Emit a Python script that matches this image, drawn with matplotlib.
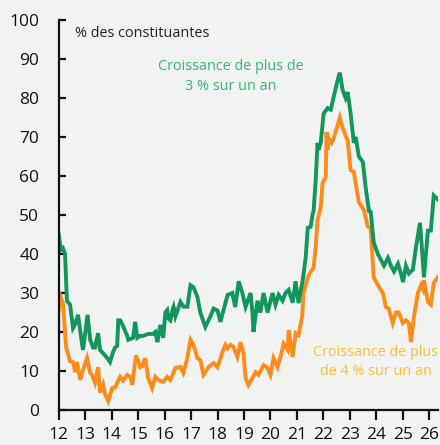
import matplotlib.pyplot as plt

plt.rcParams['font.family'] = ['Open Sans', 'DejaVu Sans']

# part des constituantes avec croissance > 3 % sur un an
green_years = [12.00, 12.08, 12.16, 12.24, 12.31, 12.43, 12.54, 12.62, 12.73, 12.88, 12.92,
               13.09, 13.19, 13.30, 13.37, 13.49, 13.56, 13.68, 13.75, 13.87, 13.94,
               14.06, 14.13, 14.21, 14.25, 14.32, 14.40, 14.59, 14.63, 14.81, 14.89, 14.97,
               15.08, 15.19, 15.38, 15.57, 15.65, 15.73, 15.84, 15.95,
               16.03, 16.10, 16.14, 16.22, 16.30, 16.34, 16.41, 16.60, 16.71, 16.86, 16.98,
               17.09, 17.24, 17.35, 17.54, 17.73, 17.85, 18.00,
               18.11, 18.38, 18.56, 18.67, 18.80, 18.94,
               19.06, 19.25, 19.32, 19.36, 19.51, 19.62, 19.74, 19.89,
               20.08, 20.19, 20.31, 20.46, 20.57, 20.69, 20.84, 20.95,
               21.06, 21.22, 21.33, 21.41, 21.52, 21.60, 21.63, 21.71, 21.78, 21.82, 21.90,
               22.01, 22.16, 22.28, 22.39, 22.54, 22.62, 22.73, 22.84, 22.92,
               23.03, 23.15, 23.22, 23.34, 23.49, 23.60, 23.72, 23.79, 23.90,
               24.06, 24.29, 24.44, 24.55, 24.67, 24.82, 24.93,
               25.01, 25.12, 25.23, 25.38, 25.50, 25.65, 25.72, 25.80, 25.95,
               26.06, 26.17, 26.32]
green_vals = [45, 41, 41.5, 40, 28, 27, 21, 22, 24.4, 17, 15.4,
              24.4, 18, 16, 16, 19.7, 15.4, 14.5, 14, 13, 12.3,
              15, 16, 16.4, 23, 23, 22, 19, 18, 18.5, 22.6, 18.5,
              19, 19, 19.5, 19.5, 20, 17.4, 21.8, 18.5,
              25, 25.6, 23.5, 23, 25.6, 26.4, 24, 27.7, 26.5, 26.5, 32,
              31.5, 29, 25, 21.3, 24, 26, 25.5,
              22.6, 29.5, 30, 26.4, 33, 30,
              26.4, 30, 25, 20, 28, 25, 30, 25,
              30, 27, 29.5, 28, 30, 30.8, 27.5, 33,
              27.4, 33.3, 39, 46.7, 47, 50.5, 51, 59, 68.5, 66.7, 68.5,
              76, 77.4, 77, 80.3, 84.6, 86.5, 82, 80, 81.5,
              76, 68.5, 70, 65, 63.6, 57, 51, 50.8, 43,
              40, 37, 39, 37, 35.5, 37.5, 35,
              32.8, 37, 35, 36, 41.8, 48, 41.8, 34, 46,
              46, 55, 54]

# part des constituantes avec croissance > 4 % sur un an
orange_years = [12.00, 12.09, 12.16, 12.20, 12.28, 12.43, 12.54, 12.62, 12.69, 12.81, 12.88,
                13.07, 13.19, 13.26, 13.37, 13.49, 13.56, 13.68, 13.75, 13.87,
                14.02, 14.13, 14.32, 14.43, 14.59, 14.70, 14.78, 14.92,
                15.08, 15.16, 15.27, 15.38, 15.53, 15.65, 15.76, 15.95,
                16.10, 16.22, 16.41, 16.60, 16.71, 16.86, 16.98,
                17.09, 17.24, 17.35, 17.47, 17.66, 17.85, 18.00,
                18.19, 18.30, 18.38, 18.49, 18.60, 18.75, 18.87, 18.98,
                19.06, 19.17, 19.32, 19.44, 19.55, 19.74, 19.89,
                20.00, 20.12, 20.27, 20.38, 20.50, 20.65, 20.69, 20.84, 20.95,
                21.06, 21.20, 21.25, 21.41, 21.52, 21.63, 21.71, 21.78, 21.90, 21.97,
                22.09, 22.12, 22.16, 22.20, 22.31, 22.39, 22.54, 22.62, 22.73, 22.92,
                23.03, 23.15, 23.34, 23.53, 23.68, 23.79, 23.90,
                24.10, 24.25, 24.36, 24.47, 24.62, 24.74, 24.85,
                25.00, 25.12, 25.23, 25.31, 25.42, 25.57, 25.69, 25.76, 25.80, 25.95,
                26.06, 26.17, 26.32]
orange_vals = [25.6, 28.7, 27.4, 24, 16, 12.5, 12.3, 9.7, 12.3, 7.7, 9.5,
               13.3, 9.5, 9, 7, 11, 4.5, 6.5, 4, 2.3,
               5.6, 5.8, 8.5, 7.5, 9, 8.5, 6.5, 14,
               11, 11.3, 13.3, 8.2, 5.6, 8.5, 7.7, 7.2,
               8.5, 7.7, 10.8, 11, 9.5, 13.3, 18,
               16.7, 13.3, 12.8, 9, 11, 12, 11,
               14.9, 16.7, 15.8, 16.7, 16.2, 13.6, 17.4, 14.6,
               8.2, 6.4, 8.2, 9.7, 9, 11.5, 10.8,
               9, 13.3, 11, 13.6, 17, 15.4, 20.5, 13.6, 19.7,
               19.2, 24, 30, 34, 35.4, 36.5, 41.8, 48.7, 52, 58.2,
               59.7, 71.3, 66.7, 69.7, 68.5, 69.7, 73, 75, 72.3, 69,
               61.5, 61, 53.3, 51.3, 47, 46.7, 34,
               31.5, 30, 26.4, 26, 22.3, 25, 25,
               22.3, 23, 22.3, 17.4, 23.8, 30, 32, 31, 33.3, 27.7,
               27, 32.6, 34]

y_ticks = [0, 10, 20, 30, 40, 50, 60, 70, 80, 90, 100]
x_ticks = list(range(12, 27))

bg = '#f1f3f3'
fig = plt.figure(figsize=(4.4, 4.45), dpi=100, facecolor=bg)
ax = fig.add_axes([0.1334, 0.0787, 0.862, 0.8763], facecolor=bg)

ax.plot(orange_years, orange_vals, color='#ff8c1a', lw=2.8, solid_joinstyle='miter')
ax.plot(green_years, green_vals, color='#13965c', lw=2.8, solid_joinstyle='miter')

ax.set_xlim(12, 26.33)
ax.set_ylim(0, 100)
ax.set_yticks(y_ticks)
ax.set_xticks(x_ticks)
ax.set_xticklabels([str(t) for t in x_ticks])

for s in ['top', 'right']:
    ax.spines[s].set_visible(False)
for s in ['left', 'bottom']:
    ax.spines[s].set_linewidth(1.6)
    ax.spines[s].set_color('#111111')

ax.tick_params(axis='y', direction='in', length=5, width=1.6, pad=14,
               labelsize=12.5, colors='#111111')
ax.tick_params(axis='x', direction='out', length=7, width=1.6, pad=5,
               labelsize=12.5, colors='#111111')

ax.text(0.043, 0.985, '% des constituantes', transform=ax.transAxes,
        ha='left', va='top', fontsize=10.4, color='#222222')
ax.text(18.5, 85.6, 'Croissance de plus de\n3 % sur un an', ha='center', va='center',
        fontsize=10.4, color='#2dbb6a', linespacing=1.45)
ax.text(23.98, 12.3, 'Croissance de plus\nde 4 % sur un an', ha='center', va='center',
        fontsize=10.4, color='#ffbb33', linespacing=1.45)

fig.savefig('out.png', dpi=100, facecolor=bg)
